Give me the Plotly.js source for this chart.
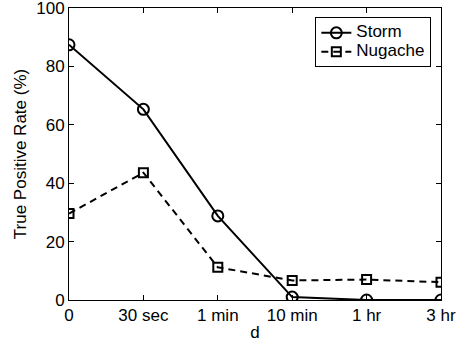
<!DOCTYPE html>
<html><head><meta charset="utf-8">
<script src="https://cdn.plot.ly/plotly-3.0.1.min.js"></script>
<style>html,body{margin:0;padding:0;background:#fff}#chart{width:460px;height:345px}</style>
</head><body><div id="chart"></div>
<script>
var categories = ["0", "30 sec", "1 min", "10 min", "1 hr", "3 hr"];
var stormValues = [87.4, 65.3, 28.8, 1.0, 0.0, 0.0];
var nugacheValues = [29.6, 43.6, 11.2, 6.7, 7.0, 6.1];
var yTicks = [0, 20, 40, 60, 80, 100];
var seriesNames = ["Storm", "Nugache"];

var xIdx = categories.map(function(c, i){ return i; });
var fnt = {family: "Liberation Sans, Arial, sans-serif", size: 17, color: "#000"};
function legName(s){ return "<span style='font-size:17px'>" + s + "</span>"; }

var traces = [
  {x: xIdx, y: stormValues, name: legName(seriesNames[0]), type: "scatter", mode: "lines+markers",
   line: {color: "#000", width: 2, dash: "solid"},
   marker: {symbol: "circle-open", size: 11, color: "#000", line: {width: 2, color: "#000"}}},
  {x: xIdx, y: nugacheValues, name: legName(seriesNames[1]), type: "scatter", mode: "lines+markers",
   line: {color: "#000", width: 2, dash: "7px,5px"},
   marker: {symbol: "square-open", size: 9, color: "#000", line: {width: 2, color: "#000"}}}
];

var layout = {
  width: 460, height: 345,
  margin: {l: 69, r: 19, t: 8, b: 45},
  paper_bgcolor: "#fff", plot_bgcolor: "#fff",
  font: fnt,
  showlegend: true,
  legend: {x: 0.974, y: 0.968, xanchor: "right", yanchor: "top",
           bgcolor: "#fff", bordercolor: "#000", borderwidth: 1,
           font: {family: fnt.family, size: 11, color: "#000"}, tracegroupgap: 0, itemwidth: 30},
  xaxis: {range: [0, 5], tickvals: xIdx, ticktext: categories,
          ticks: "inside", ticklen: 5, tickcolor: "#000", tickwidth: 1,
          showline: true, linecolor: "#000", linewidth: 1, mirror: "ticks",
          showgrid: false, zeroline: false, tickfont: fnt, ticklabeloverflow: "allow",
          title: {text: "d", font: fnt, standoff: 1}},
  yaxis: {range: [0, 100], tickvals: yTicks,
          ticks: "inside", ticklen: 5, tickcolor: "#000", tickwidth: 1,
          showline: true, linecolor: "#000", linewidth: 1, mirror: "ticks",
          showgrid: false, zeroline: false, tickfont: fnt, ticklabeloverflow: "allow",
          title: {text: "True Positive Rate (%)", font: fnt, standoff: 5}}
};
Plotly.newPlot("chart", traces, layout, {displayModeBar: false, staticPlot: true});
</script></body></html>
